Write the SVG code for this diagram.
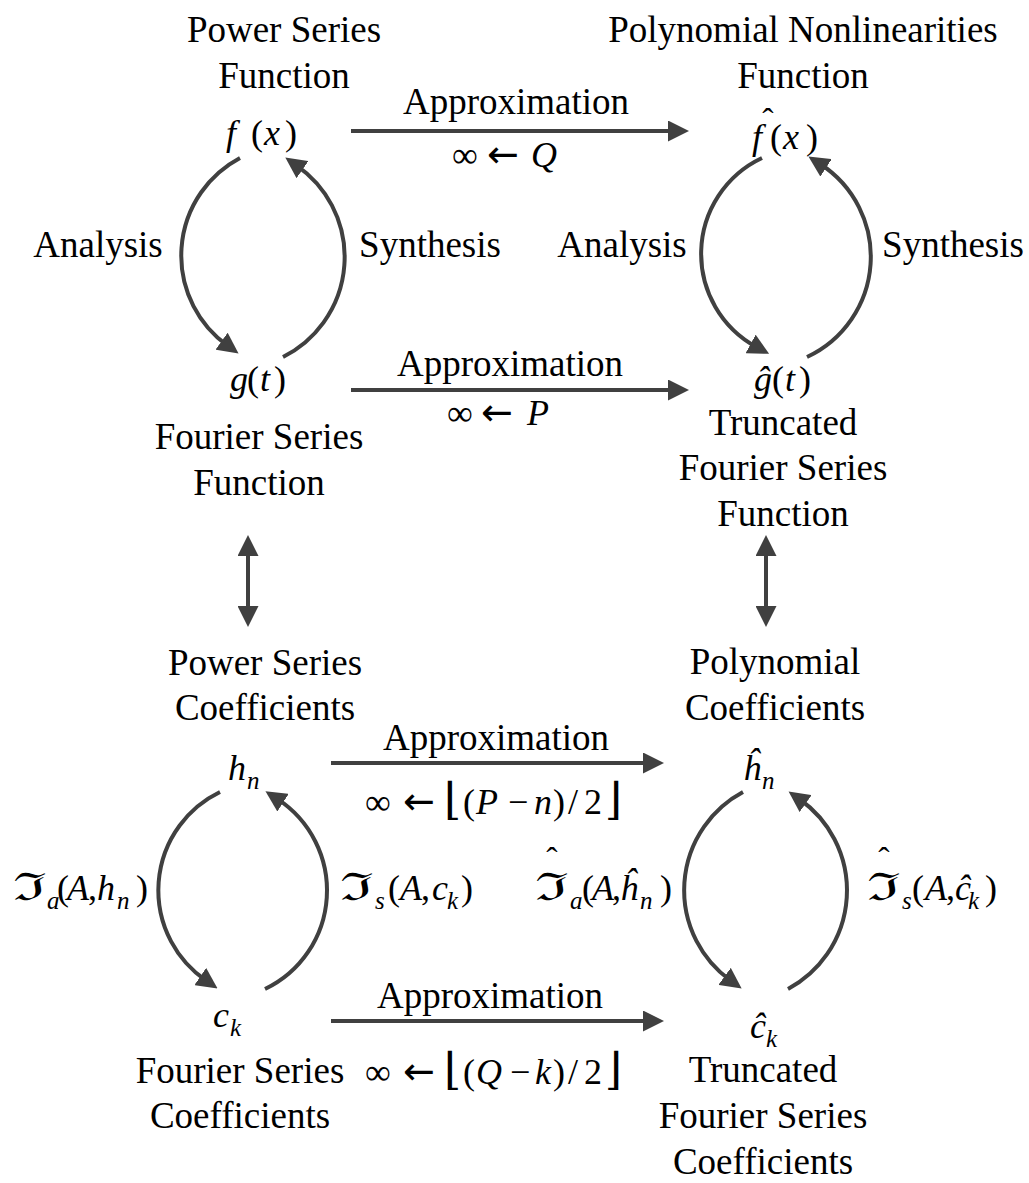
<svg xmlns="http://www.w3.org/2000/svg" width="1029" height="1183" viewBox="0 0 1029 1183">
<style>
.t{font-family:"Liberation Serif","Times New Roman",serif;font-size:37px;fill:#000;text-anchor:middle}
.m{font-family:"Liberation Serif","DejaVu Serif",serif;font-size:36px;fill:#000}
.i{font-style:italic}
.s{font-size:25px;font-style:italic}
.fr{font-family:"DejaVu Serif","Liberation Serif",serif;font-size:38px}
.fl{font-family:"DejaVu Serif","Liberation Serif",serif;font-size:44px}
.ar{font-family:"DejaVu Sans","Liberation Sans",sans-serif;font-size:38px}
.hat{font-family:"Liberation Serif",serif;font-size:34px;text-anchor:middle}
.c{stroke:#404040;stroke-width:4;fill:none}
</style>
<defs>
<marker id="ah" markerUnits="userSpaceOnUse" markerWidth="21" markerHeight="21" viewBox="0 0 21 21" refX="7" refY="10.5" orient="auto-start-reverse">
<path d="M0,0 L21,10.5 L0,21 z" fill="#404040"/>
</marker>
</defs>
<g id="connectors">
<path class="c" d="M351,131 H675" marker-end="url(#ah)"/>
<path class="c" d="M351,390 H675" marker-end="url(#ah)"/>
<path class="c" d="M331,763 H650" marker-end="url(#ah)"/>
<path class="c" d="M331,1021 H650" marker-end="url(#ah)"/>
<path class="c" d="M248,549 V613" marker-start="url(#ah)" marker-end="url(#ah)"/>
<path class="c" d="M766,549 V613" marker-start="url(#ah)" marker-end="url(#ah)"/>
<path class="c" d="M240,158 A110.5,110.5 0 0 0 227.2,345.3" marker-end="url(#ah)"/>
<path class="c" d="M283,357 A111.6,111.6 0 0 0 296.8,165.6" marker-end="url(#ah)"/>
<path class="c" d="M762,158 A106,106 0 0 0 756.8,347.2" marker-end="url(#ah)"/>
<path class="c" d="M807,357 A110.5,110.5 0 0 0 820.2,164" marker-end="url(#ah)"/>
<path class="c" d="M220,792 A109.2,109.2 0 0 0 206,980.5" marker-end="url(#ah)"/>
<path class="c" d="M265,989 A109.2,109.2 0 0 0 277.2,798.9" marker-end="url(#ah)"/>
<path class="c" d="M743,792 A111.3,111.3 0 0 0 730.3,980.4" marker-end="url(#ah)"/>
<path class="c" d="M788,989 A111.7,111.7 0 0 0 800,799.5" marker-end="url(#ah)"/>
</g>
<g id="labels">
<text class="t" x="516" y="114">Approximation</text>
<text class="m" x="452" y="167">∞</text>
<text class="ar" x="487" y="167">←</text>
<text class="m i" x="531" y="167">Q</text>
<text class="t" x="510" y="376">Approximation</text>
<text class="m" x="447" y="425">∞</text>
<text class="ar" x="481" y="425">←</text>
<text class="m i" x="527" y="425">P</text>
<text class="t" x="496" y="750">Approximation</text>
<text class="m" x="365" y="814">∞</text>
<text class="ar" x="403" y="814">←</text>
<text class="fl" x="444" y="814">⌊</text>
<text class="m" y="814"><tspan x="463">(</tspan><tspan x="476" class="i">P</tspan><tspan x="508">−</tspan><tspan x="534" class="i">n</tspan><tspan x="553">)</tspan><tspan x="568">/</tspan><tspan x="584">2</tspan></text>
<text class="fl" x="605" y="814">⌋</text>
<text class="t" x="490" y="1008">Approximation</text>
<text class="m" x="365" y="1084">∞</text>
<text class="ar" x="403" y="1084">←</text>
<text class="fl" x="444" y="1084">⌊</text>
<text class="m" y="1084"><tspan x="463">(</tspan><tspan x="476" class="i">Q</tspan><tspan x="510">−</tspan><tspan x="535" class="i">k</tspan><tspan x="553">)</tspan><tspan x="568">/</tspan><tspan x="584">2</tspan></text>
<text class="fl" x="605" y="1084">⌋</text>
<text class="t" x="98" y="257">Analysis</text>
<text class="t" x="430" y="257">Synthesis</text>
<text class="t" x="622" y="257">Analysis</text>
<text class="t" x="953" y="257">Synthesis</text>
<text class="fr" x="13" y="900" textLength="33" lengthAdjust="spacingAndGlyphs">ℑ</text>
<text class="m" y="900"><tspan x="47" dy="9" class="s">a</tspan><tspan x="57" dy="-9">(</tspan><tspan x="67" class="i">A</tspan><tspan x="88">,</tspan><tspan x="97" class="i">h</tspan><tspan x="117" dy="9" class="s">n</tspan><tspan x="136" dy="-9">)</tspan></text>
<text class="fr" x="340" y="900" textLength="33" lengthAdjust="spacingAndGlyphs">ℑ</text>
<text class="m" y="900"><tspan x="375" dy="9" class="s">s</tspan><tspan x="388" dy="-9">(</tspan><tspan x="400" class="i">A</tspan><tspan x="421">,</tspan><tspan x="432" class="i">c</tspan><tspan x="447" dy="9" class="s">k</tspan><tspan x="461" dy="-9">)</tspan></text>
<text class="fr" x="535" y="900" textLength="33" lengthAdjust="spacingAndGlyphs">ℑ</text>
<text class="hat" x="552" y="871">ˆ</text>
<text class="m" y="900"><tspan x="570" dy="9" class="s">a</tspan><tspan x="582" dy="-9">(</tspan><tspan x="592" class="i">A</tspan><tspan x="612">,</tspan><tspan x="620" class="i">ĥ</tspan><tspan x="640" dy="9" class="s">n</tspan><tspan x="660" dy="-9">)</tspan></text>
<text class="fr" x="867" y="900" textLength="33" lengthAdjust="spacingAndGlyphs">ℑ</text>
<text class="hat" x="884" y="871">ˆ</text>
<text class="m" y="900"><tspan x="902" dy="9" class="s">s</tspan><tspan x="912" dy="-9">(</tspan><tspan x="925" class="i">A</tspan><tspan x="946">,</tspan><tspan x="955" class="i">ĉ</tspan><tspan x="968" dy="9" class="s">k</tspan><tspan x="985" dy="-9">)</tspan></text>
</g>
<g id="node-fx">
<text class="t" x="284" y="42">Power Series</text>
<text class="t" x="284" y="88">Function</text>
<text class="m" y="145"><tspan x="226" class="i">f</tspan><tspan x="251">(</tspan><tspan x="264" class="i">x</tspan><tspan x="285">)</tspan></text>
</g>
<g id="node-fhat">
<text class="t" x="803" y="42">Polynomial Nonlinearities</text>
<text class="t" x="803" y="88">Function</text>
<text class="m" y="149"><tspan x="752" class="i">f</tspan><tspan x="770">(</tspan><tspan x="783" class="i">x</tspan><tspan x="806">)</tspan></text>
<text class="hat" x="768" y="132">ˆ</text>
</g>
<g id="node-gt">
<text class="m" y="391"><tspan x="230" class="i">g</tspan><tspan x="247">(</tspan><tspan x="260" class="i">t</tspan><tspan x="274">)</tspan></text>
<text class="t" x="259" y="449">Fourier Series</text>
<text class="t" x="259" y="495">Function</text>
</g>
<g id="node-ghat">
<text class="m" y="391"><tspan x="754" class="i">ĝ</tspan><tspan x="772">(</tspan><tspan x="785" class="i">t</tspan><tspan x="799">)</tspan></text>
<text class="t" x="783" y="435">Truncated</text>
<text class="t" x="783" y="480">Fourier Series</text>
<text class="t" x="783" y="526">Function</text>
</g>
<g id="node-hn">
<text class="t" x="265" y="675">Power Series</text>
<text class="t" x="265" y="720">Coefficients</text>
<text class="m" y="780"><tspan x="228" class="i">h</tspan><tspan x="247" dy="9" class="s">n</tspan></text>
</g>
<g id="node-hnhat">
<text class="t" x="775" y="674">Polynomial</text>
<text class="t" x="775" y="720">Coefficients</text>
<text class="m" y="780"><tspan x="743" class="i">ĥ</tspan><tspan x="762" dy="9" class="s">n</tspan></text>
</g>
<g id="node-ck">
<text class="m" y="1027"><tspan x="213" class="i">c</tspan><tspan x="230" dy="9" class="s">k</tspan></text>
<text class="t" x="240" y="1083">Fourier Series</text>
<text class="t" x="240" y="1128">Coefficients</text>
</g>
<g id="node-ckhat">
<text class="m" y="1038"><tspan x="750" class="i">ĉ</tspan><tspan x="766" dy="9" class="s">k</tspan></text>
<text class="t" x="763" y="1082">Truncated</text>
<text class="t" x="763" y="1128">Fourier Series</text>
<text class="t" x="763" y="1174">Coefficients</text>
</g>
</svg>
